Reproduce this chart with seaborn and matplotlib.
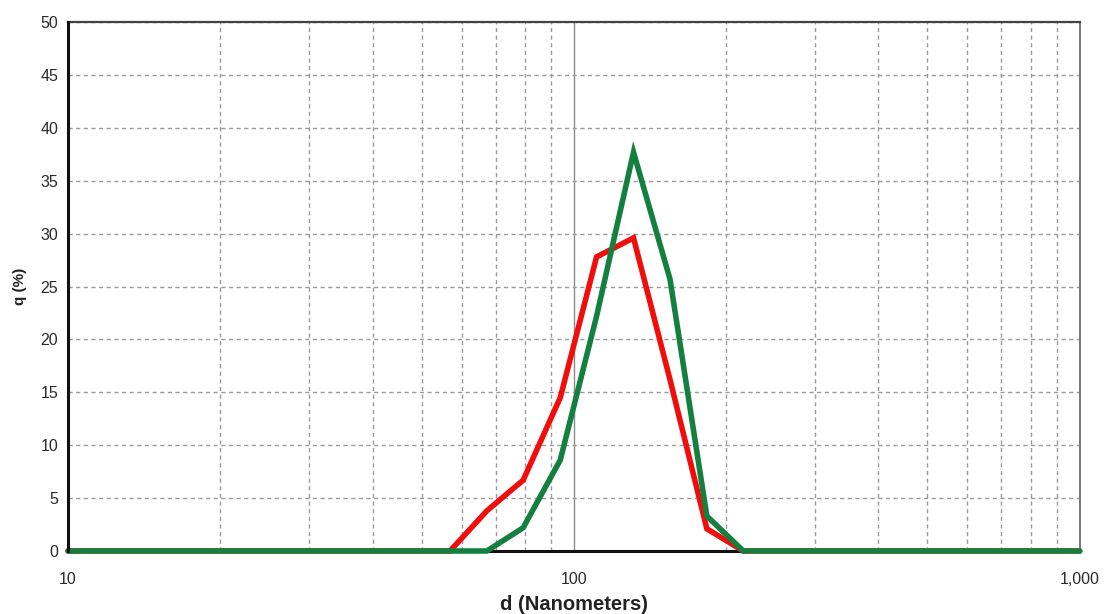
import numpy as np
import pandas as pd
import matplotlib
matplotlib.use("Agg")
import matplotlib.pyplot as plt
import seaborn as sns
from matplotlib.ticker import FixedLocator, FuncFormatter, LogLocator, NullFormatter

# Data
diameters = [10, 56.9, 67.3, 79.4, 94.0, 110.9, 131.2, 154.9, 183.2, 216.3, 1000]
red_q = [0, 0, 3.8, 6.7, 14.5, 27.8, 29.6, 16.2, 2.1, 0, 0]
green_q = [0, 0, 0, 2.2, 8.6, 22.2, 37.7, 25.7, 3.3, 0, 0]
series_names = ["Sample A", "Sample B"]
y_ticks = [0, 5, 10, 15, 20, 25, 30, 35, 40, 45, 50]
x_ticks = [10, 100, 1000]
x_tick_labels = ["10", "100", "1,000"]

df = pd.DataFrame({
    "d": diameters * 2,
    "q": red_q + green_q,
    "series": [series_names[0]] * len(diameters) + [series_names[1]] * len(diameters),
})

sns.set_style("white")
plt.rcParams['font.family'] = ['Liberation Sans', 'DejaVu Sans']

fig = plt.figure(figsize=(11.04, 6.14), dpi=100)
ax = fig.add_axes([0.0616, 0.1026, 0.978 - 0.0616, 0.964 - 0.1026])

ax.set_xscale("log")
ax.set_xlim(10, 1000)
ax.set_ylim(0, 50)

# grid
ax.xaxis.set_minor_locator(LogLocator(base=10, subs=np.arange(2, 10)))
ax.xaxis.set_minor_formatter(NullFormatter())
dash = (0, (3, 2.5))
ax.grid(True, which="minor", axis="x", color="#9a9a9a", linestyle=dash, linewidth=1.0)
ax.grid(True, which="major", axis="x", color="#8a8a8a", linestyle="-", linewidth=1.0)
ax.grid(True, which="major", axis="y", color="#9a9a9a", linestyle=dash, linewidth=1.0)
ax.set_axisbelow(True)

sns.lineplot(data=df, x="d", y="q", hue="series",
             palette=["#f20d0d", "#138040"], linewidth=4.0,
             legend=False, ax=ax, solid_joinstyle="miter")
for ln in ax.get_lines():
    ln.set_clip_on(False)
    ln.set_zorder(5)

ax.xaxis.set_major_locator(FixedLocator(x_ticks))
ax.xaxis.set_major_formatter(FuncFormatter(lambda v, p: x_tick_labels[x_ticks.index(int(round(v)))] if int(round(v)) in x_ticks else ""))
ax.set_yticks(y_ticks)

ax.tick_params(axis="both", which="major", direction="out", length=4, width=1,
               color="#888888", labelsize=11.5, labelcolor="#2a2a2a", pad=3)
ax.tick_params(axis="x", which="minor", direction="out", length=3, width=1, color="#aaaaaa")
ax.tick_params(axis="x", which="major", pad=11)

for s in ["left", "bottom"]:
    ax.spines[s].set_color("#111111")
    ax.spines[s].set_linewidth(2.2)
ax.spines["left"].set_zorder(6)
ax.spines["top"].set_color("#444444")
ax.spines["top"].set_linewidth(1.6)
ax.spines["right"].set_color("#777777")
ax.spines["right"].set_linewidth(1.4)

ax.set_xlabel("d (Nanometers)", fontsize=14.5, fontweight="bold", color="#222222", labelpad=6)
ax.set_ylabel("q (%)", fontsize=11, fontweight="bold", color="#222222", labelpad=10)

fig.savefig("out.png", dpi=100, facecolor="white")
